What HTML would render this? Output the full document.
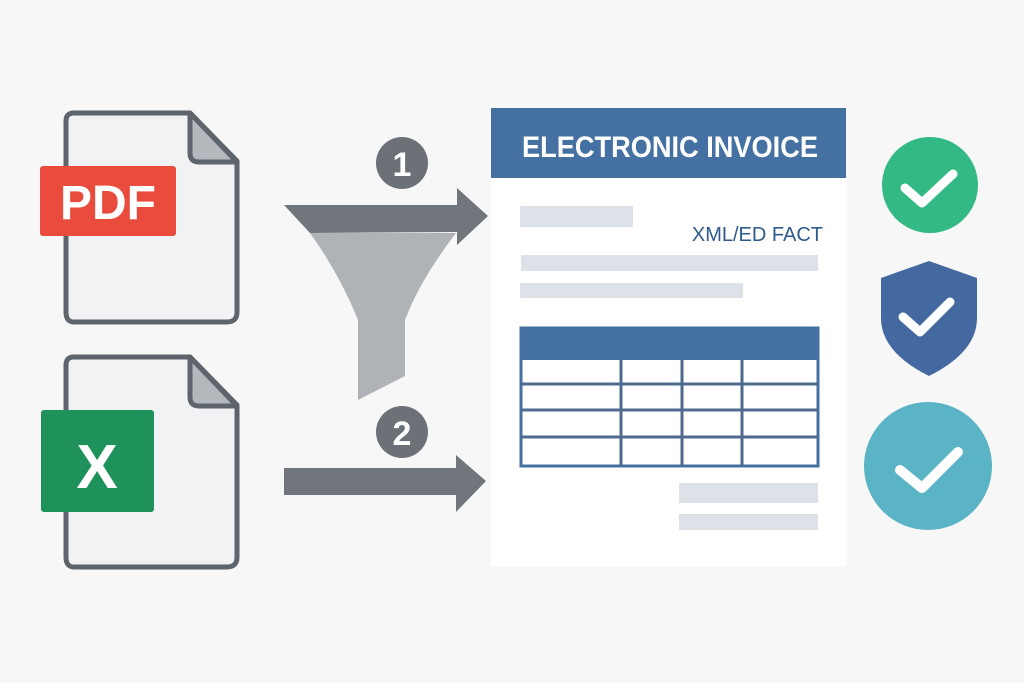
<!DOCTYPE html>
<html><head><meta charset="utf-8"><style>
body{margin:0;background:#f7f7f7;}
svg{display:block}
</style></head><body>
<svg width="1024" height="683" viewBox="0 0 1024 683" xmlns="http://www.w3.org/2000/svg">
<rect width="1024" height="683" fill="#f7f7f7"/>
<!-- PDF doc -->
<path d="M72 113 H190 L237 161 V312 Q237 322 227 322 H74 Q66 322 66 312 V121 Q66 113 74 113 Z" fill="#f1f2f3" stroke="#5d646b" stroke-width="5" stroke-linejoin="round"/>
<path d="M190 113 V153 Q190 162 199 162 H237 Z" fill="#b4b8bd" stroke="#5d646b" stroke-width="5" stroke-linejoin="round"/>
<rect x="40" y="166" width="136" height="70" rx="3" fill="#e94b3c"/>
<text x="108" y="219" font-family="Liberation Sans, sans-serif" font-weight="bold" font-size="48" fill="#fff" text-anchor="middle">PDF</text>
<!-- Excel doc -->
<path d="M72 357 H190 L237 405 V557 Q237 567 227 567 H74 Q66 567 66 557 V365 Q66 357 74 357 Z" fill="#f1f2f3" stroke="#5d646b" stroke-width="5" stroke-linejoin="round"/>
<path d="M190 357 V397 Q190 406 199 406 H237 Z" fill="#b4b8bd" stroke="#5d646b" stroke-width="5" stroke-linejoin="round"/>
<rect x="41" y="410" width="113" height="102" rx="3" fill="#1f915a"/>
<text x="97" y="488" font-family="Liberation Sans, sans-serif" font-weight="bold" font-size="62" fill="#fff" text-anchor="middle">X</text>
<!-- funnel -->
<path d="M310 233 H456 Q420 280 405 320 V376 L358 400 V320 Q340 275 310 233 Z" fill="#afb3b8"/>
<path d="M284 205 H457 V188 L488 216 L457 245 V232 L310 233 Z" fill="#71767d"/>
<circle cx="402" cy="163" r="26" fill="#6c7178"/>
<text x="402" y="176" font-family="Liberation Sans, sans-serif" font-weight="bold" font-size="34" fill="#fff" text-anchor="middle">1</text>
<circle cx="402" cy="432" r="26" fill="#6c7178"/>
<text x="402" y="445" font-family="Liberation Sans, sans-serif" font-weight="bold" font-size="34" fill="#fff" text-anchor="middle">2</text>
<path d="M284 468 H456 V455 L486 481 L456 512 V495 H284 Z" fill="#71767d"/>
<!-- invoice -->
<rect x="491" y="108" width="355" height="458" fill="#fff"/>
<rect x="491" y="108" width="355" height="70" fill="#4570a2"/>
<text x="670" y="157" font-family="Liberation Sans, sans-serif" font-weight="bold" font-size="30" fill="#fff" text-anchor="middle" textLength="296" lengthAdjust="spacingAndGlyphs">ELECTRONIC INVOICE</text>
<rect x="520" y="206" width="113" height="21" fill="#dde2e8"/>
<text x="823" y="241" font-family="Liberation Sans, sans-serif" font-size="20" fill="#2f5a8c" text-anchor="end">XML/ED FACT</text>
<rect x="521" y="255" width="297" height="16" fill="#dde2e8"/>
<rect x="520" y="283" width="223" height="15" fill="#dde2e8"/>
<rect x="521" y="328" width="297" height="138" fill="#fff" stroke="#4570a2" stroke-width="3"/>
<rect x="521" y="328" width="297" height="32" fill="#4570a2"/>
<g stroke="#4f6a8f" stroke-width="3">
<line x1="521" y1="384" x2="818" y2="384"/>
<line x1="521" y1="410" x2="818" y2="410"/>
<line x1="521" y1="437" x2="818" y2="437"/>
<line x1="621" y1="360" x2="621" y2="466"/>
<line x1="682" y1="360" x2="682" y2="466"/>
<line x1="742" y1="360" x2="742" y2="466"/>
</g>
<rect x="679" y="483" width="139" height="20" fill="#dde2e8"/>
<rect x="679" y="514" width="139" height="16" fill="#dde2e8"/>
<!-- icons -->
<circle cx="930" cy="185" r="48" fill="#32b984"/>
<path d="M905 188 L922 203 L953 174" fill="none" stroke="#fff" stroke-width="9" stroke-linecap="round" stroke-linejoin="round"/>
<path d="M929 261 L977 278 V318 Q977 352 929 376 Q881 352 881 318 V278 Z" fill="#4369a0"/>
<path d="M903 317 L920 332 L950 302" fill="none" stroke="#fff" stroke-width="9" stroke-linecap="round" stroke-linejoin="round"/>
<circle cx="928" cy="466" r="64" fill="#5bb4c6"/>
<path d="M900 470 L922 488 L958 452" fill="none" stroke="#fff" stroke-width="10" stroke-linecap="round" stroke-linejoin="round"/>
</svg>
</body></html>
